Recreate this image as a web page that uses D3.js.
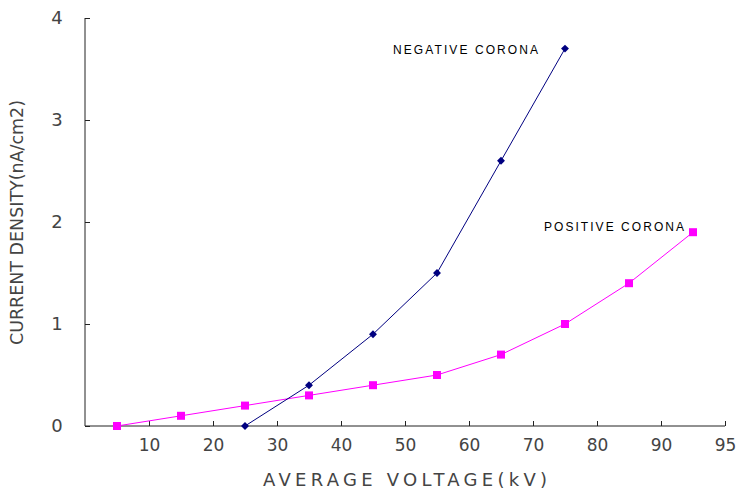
<!DOCTYPE html>
<html><head><meta charset="utf-8">
<script src="https://cdn.jsdelivr.net/npm/d3@7"></script>
<style>body{margin:0;background:#fff}svg{display:block}</style>
</head><body>
<script>
const negVoltage = [25, 35, 45, 55, 65, 75];
const negDensity = [0, 0.4, 0.9, 1.5, 2.6, 3.7];
const posVoltage = [5, 15, 25, 35, 45, 55, 65, 75, 85, 95];
const posDensity = [0, 0.1, 0.2, 0.3, 0.4, 0.5, 0.7, 1.0, 1.4, 1.9];
const xTickValues = [10, 20, 30, 40, 50, 60, 70, 80, 90, 100];
const xTickLabels = ["10", "20", "30", "40", "50", "60", "70", "80", "90", "95"];
const yTickValues = [0, 1, 2, 3, 4];
const seriesNames = ["NEGATIVE CORONA", "POSITIVE CORONA"];

const W = 737, H = 491;
const svg = d3.select("body").append("svg").attr("width", W).attr("height", H);
const x = d3.scaleLinear().domain([0, 100]).range([85, 725]);
const y = d3.scaleLinear().domain([0, 4]).range([426, 18]);
const font = "'DejaVu Sans', sans-serif";
const tcol = "#444";

const xAxis = svg.append("g").attr("transform", `translate(0,${y(0)})`)
  .call(d3.axisBottom(x).tickValues(xTickValues).tickSize(-5).tickSizeOuter(0)
    .tickFormat((d, i) => xTickLabels[i]));
xAxis.select(".domain").attr("stroke", "#222").attr("d", `M${x(0)},0H${x(100)}`);
xAxis.selectAll(".tick line").attr("stroke", "#222");
xAxis.selectAll(".tick text").attr("y", 13).attr("dy", "0.71em")
  .attr("font-family", font).attr("font-size", 17).attr("fill", tcol);

const yAxis = svg.append("g").attr("transform", `translate(${x(0)},0)`)
  .call(d3.axisLeft(y).tickValues(yTickValues).tickSize(-5).tickSizeOuter(0).tickFormat(d3.format("d")));
yAxis.select(".domain").attr("stroke", "#222").attr("d", `M0,${y(4)}V${y(0)}`);
yAxis.selectAll(".tick line").attr("stroke", "#222");
yAxis.selectAll(".tick text").attr("x", -28).attr("text-anchor", "middle")
  .attr("font-family", font).attr("font-size", 18).attr("fill", tcol);

svg.append("text").attr("x", 263).attr("y", 486)
  .attr("textLength", 284).attr("lengthAdjust", "spacing")
  .attr("font-family", font).attr("font-size", 18).attr("fill", tcol)
  .text("AVERAGE VOLTAGE(kV)");
svg.append("text").attr("transform", "translate(23,345) rotate(-90)")
  .attr("textLength", 245).attr("lengthAdjust", "spacingAndGlyphs")
  .attr("font-family", font).attr("font-size", 18).attr("fill", tcol)
  .text("CURRENT DENSITY(nA/cm2)");

const line = d3.line().x(d => x(d[0])).y(d => y(d[1]));
const neg = negVoltage.map((v, i) => [v, negDensity[i]]);
const pos = posVoltage.map((v, i) => [v, posDensity[i]]);

svg.append("path").datum(pos).attr("d", line).attr("fill", "none").attr("stroke", "#ff00ff").attr("stroke-width", 1);
svg.append("path").datum(neg).attr("d", line).attr("fill", "none").attr("stroke", "#000080").attr("stroke-width", 1);

svg.selectAll(".sq").data(pos).join("rect")
  .attr("x", d => x(d[0]) - 4).attr("y", d => y(d[1]) - 4)
  .attr("width", 8).attr("height", 8).attr("fill", "#ff00ff");
svg.selectAll(".dm").data(neg).join("path")
  .attr("d", d3.symbol(d3.symbolDiamond2, 40))
  .attr("transform", d => `translate(${x(d[0])},${y(d[1])})`).attr("fill", "#000080");

const last = a => a[a.length - 1];
svg.append("text").attr("x", x(last(negVoltage)) - 172).attr("y", y(last(negDensity)) + 5)
  .attr("textLength", 145).attr("lengthAdjust", "spacing")
  .attr("font-family", "'Liberation Sans', Arial, sans-serif")
  .attr("font-size", 12).attr("fill", "#000").text(seriesNames[0]);
svg.append("text").attr("x", x(last(posVoltage)) - 149).attr("y", y(last(posDensity)) - 1)
  .attr("textLength", 140).attr("lengthAdjust", "spacing")
  .attr("font-family", "'Liberation Sans', Arial, sans-serif")
  .attr("font-size", 12).attr("fill", "#000").text(seriesNames[1]);
</script>
</body></html>
